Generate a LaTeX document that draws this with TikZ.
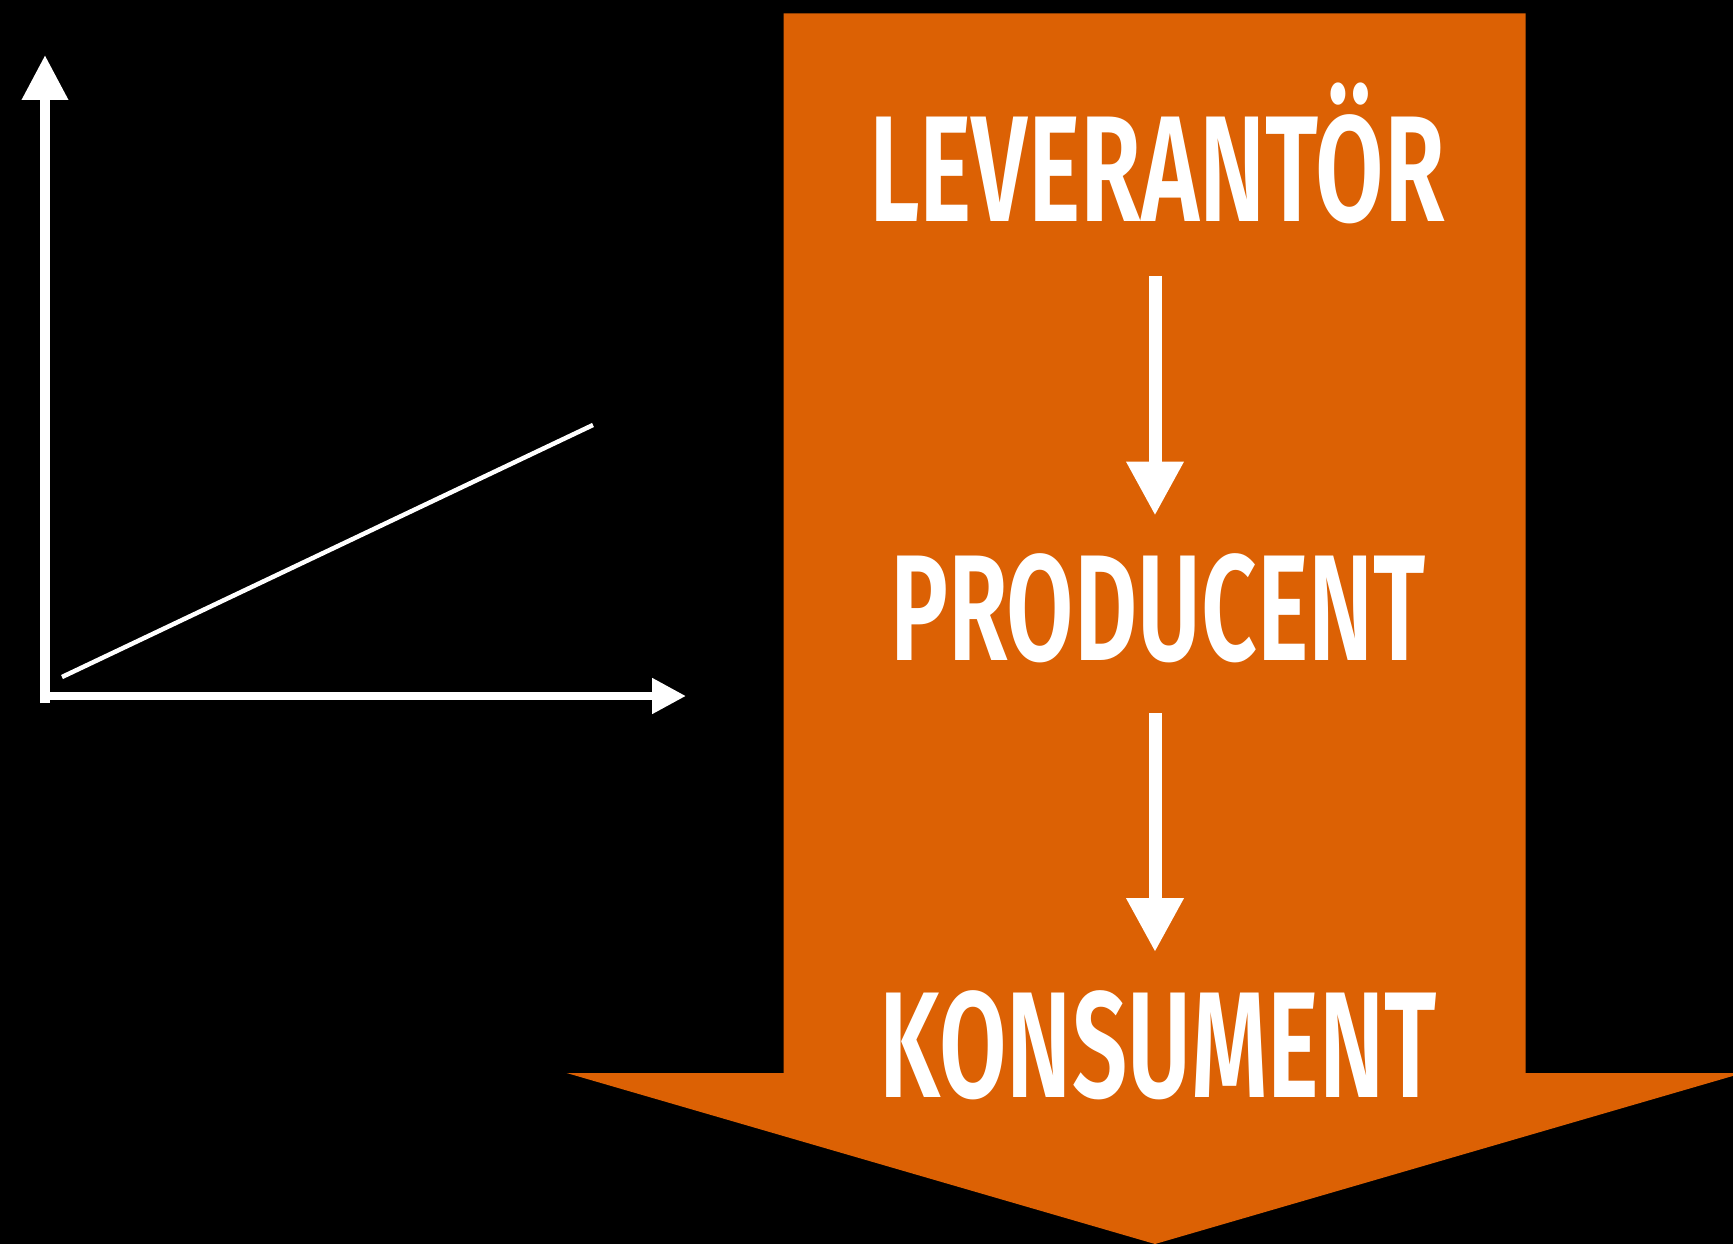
\documentclass[tikz,border=0pt]{standalone}
\usepackage{fontspec}
\usetikzlibrary{arrows.meta}
\newfontfamily\labfont{Fira Sans SemiBold}
\definecolor{flowor}{RGB}{220,97,4}
\newcommand\stagetxt[2]{\resizebox{#1}{\height}{\labfont\fontsize{151}{151}\selectfont #2}}
\tikzset{
  axisline/.style={draw=white, line width=#1},
  stagetext/.style={text=white, inner sep=0pt, outer sep=0pt, anchor=base},
  flowarrow/.style={draw=white, line width=13pt, -{Triangle[width=54pt,length=54pt]}},
}
\begin{document}
\begin{tikzpicture}[x=1pt,y=-1pt]
\useasboundingbox (0,0) rectangle (1733,1244);
\fill[black] (0,0) rectangle (1733,1244);
\clip (0,0) rectangle (1733,1244);
% big orange arrow
\fill[flowor] (783.6,13.3) -- (1525.5,13.3) -- (1525.5,1073) -- (1743,1073)
  -- (1155,1244) -- (566.6,1073) -- (783.6,1073) -- cycle;
% axes
\coordinate (yo) at (45,703);
\coordinate (ytop) at (45,55);
\coordinate (xo) at (50,696);
\coordinate (xend) at (686,696);
\draw[axisline=10pt, -{Triangle[width=44pt,length=45pt]}] (yo) -- (ytop);
\draw[axisline=8pt, -{Triangle[width=34pt,length=34pt]}] (xo) -- (xend);
\coordinate (d1) at (62,677);
\coordinate (d2) at (593,425);
\draw[axisline=4.5pt] (d1) -- (d2);
% stages
\node[stagetext] (lev) at (1157,222) {\stagetxt{576pt}{LEVERANTÖR}};
\node[stagetext] (prod) at (1158,660) {\stagetxt{536pt}{PRODUCENT}};
\node[stagetext] (kons) at (1158.5,1097.5) {\stagetxt{557pt}{KONSUMENT}};
\coordinate (ax) at (1155,0);
\draw[flowarrow, shorten <=52pt, shorten >=37.5pt] (lev.south -| ax) -- (prod.north -| ax);
\draw[flowarrow, shorten <=51pt, shorten >=38.5pt] (prod.south -| ax) -- (kons.north -| ax);
\end{tikzpicture}
\end{document}
